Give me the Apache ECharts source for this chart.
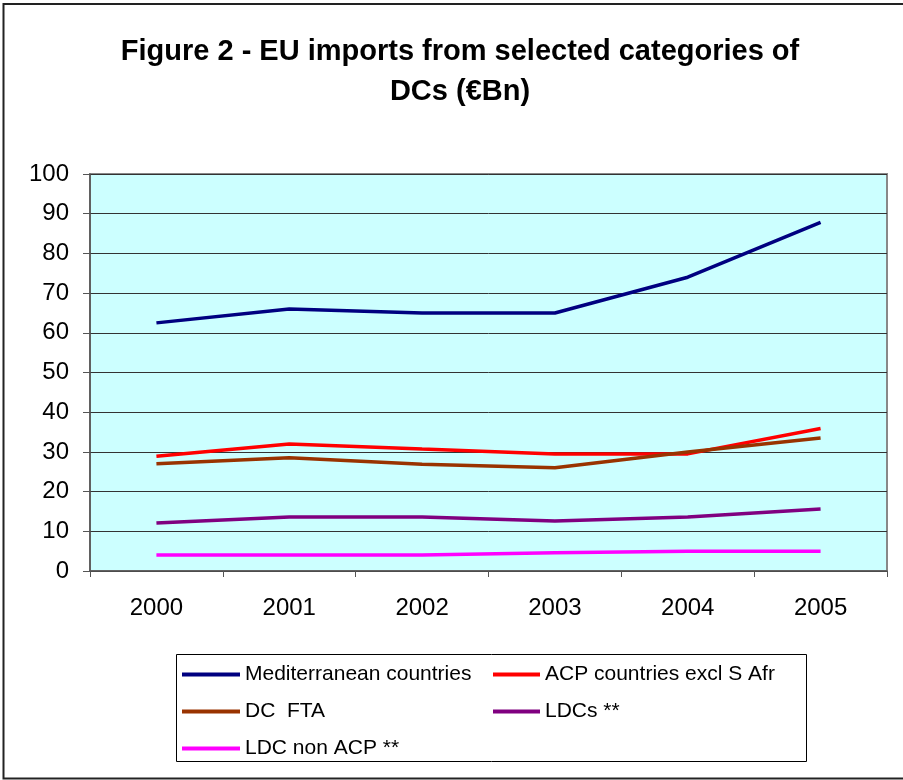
<!DOCTYPE html>
<html>
<head>
<meta charset="utf-8">
<script src="https://cdn.jsdelivr.net/npm/echarts@6/dist/echarts.min.js"></script>
<style>
  html, body { margin: 0; padding: 0; background: #fff; }
  #chart { width: 903px; height: 780px; }
</style>
</head>
<body>
<div id="chart"></div>
<script>
// data (EUR bn)
var years = ['2000', '2001', '2002', '2003', '2004', '2005'];
var mediterranean = [62.5, 66, 65, 65, 74, 87.8];
var acpExclSAfr = [28.9, 32, 30.7, 29.5, 29.5, 35.9];
var dcFta = [27, 28.5, 26.9, 26, 30, 33.5];
var ldcs = [12.1, 13.6, 13.6, 12.6, 13.6, 15.6];
var ldcNonAcp = [4, 4, 4, 4.6, 5, 5];

var chart = echarts.init(document.getElementById('chart'));

function line(name, data, color) {
    return {
        name: name,
        type: 'line',
        data: data,
        symbol: 'none',
        smooth: false,
        lineStyle: { color: color, width: 3.5 },
        itemStyle: { color: color }
    };
}

var legendText = { color: '#000', fontSize: 21, fontFamily: 'Liberation Sans, Arial, sans-serif' };

var option = {
    backgroundColor: '#fff',
    animation: false,
    textStyle: { fontFamily: 'Liberation Sans, Arial, sans-serif' },
    title: {
        text: 'Figure 2 - EU imports from selected categories of\nDCs (€Bn)',
        left: 455,
        textAlign: 'center',
        top: 27,
        textStyle: {
            fontSize: 29,
            fontWeight: 'bold',
            color: '#000',
            lineHeight: 40,
            fontFamily: 'Liberation Sans, Arial, sans-serif'
        }
    },
    grid: {
        left: 90,
        right: 16,
        top: 174,
        bottom: 209,
        show: true,
        backgroundColor: '#CCFFFF',
        borderColor: '#888',
        borderWidth: 2
    },
    // legend split into two columns
    legend: [
        {
            orient: 'vertical',
            left: 177,
            top: 659,
            itemGap: 16,
            itemWidth: 58,
            itemHeight: 4,
            icon: 'rect',
            textStyle: legendText,
            data: ['Mediterranean countries', 'DC  FTA', 'LDC non ACP **']
        },
        {
            orient: 'vertical',
            left: 488,
            top: 659,
            itemGap: 16,
            itemWidth: 47,
            itemHeight: 4,
            icon: 'rect',
            textStyle: legendText,
            data: ['ACP countries excl S Afr', 'LDCs **']
        }
    ],
    graphic: [
        // legend box
        {
            type: 'rect',
            shape: { x: 176.5, y: 654.5, width: 630, height: 107 },
            style: { fill: 'none', stroke: '#000', lineWidth: 1 },
            z: -1
        },
        // outer chart frame (left, top, bottom)
        {
            type: 'polyline',
            shape: { points: [[910, 4], [3.5, 4], [3.5, 778.5], [910, 778.5]] },
            style: { fill: 'none', stroke: '#222', lineWidth: 2 }
        }
    ],
    xAxis: {
        type: 'category',
        data: years,
        boundaryGap: true,
        axisLine: { show: true, lineStyle: { color: '#555', width: 1.5 } },
        axisTick: { show: true, inside: false, length: 6, lineStyle: { color: '#555' } },
        axisLabel: { color: '#000', fontSize: 24, margin: 25 },
        splitLine: { show: false }
    },
    yAxis: {
        type: 'value',
        min: 0,
        max: 100,
        interval: 10,
        axisLine: { show: true, lineStyle: { color: '#555', width: 1.5 } },
        axisTick: { show: true, inside: false, length: 7, lineStyle: { color: '#555' } },
        axisLabel: { color: '#000', fontSize: 24, margin: 21 },
        splitLine: { show: true, lineStyle: { color: '#333', width: 1 } }
    },
    series: [
        line('Mediterranean countries', mediterranean, '#000080'),
        line('ACP countries excl S Afr', acpExclSAfr, '#FF0000'),
        line('DC  FTA', dcFta, '#993300'),
        line('LDCs **', ldcs, '#800080'),
        line('LDC non ACP **', ldcNonAcp, '#FF00FF')
    ]
};

chart.setOption(option);
</script>
</body>
</html>
